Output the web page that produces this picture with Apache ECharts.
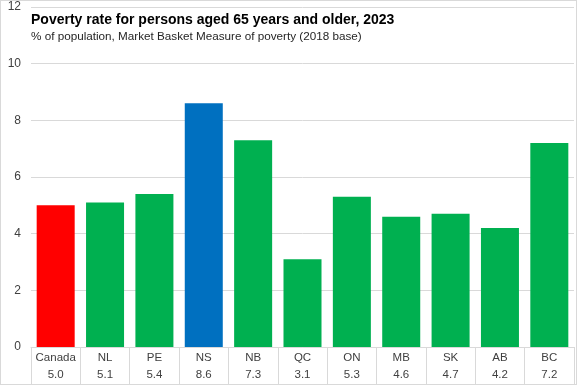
<!DOCTYPE html>
<html><head><meta charset="utf-8">
<script src="https://cdn.jsdelivr.net/npm/echarts@6/dist/echarts.min.js"></script>
<style>html,body{margin:0;padding:0;background:#fff}#c{width:575px;height:383px;border:1px solid #d9d9d9}</style>
</head><body><div id="c"></div>
<script>
const categories = ['Canada','NL','PE','NS','NB','QC','ON','MB','SK','AB','BC'];
const values = [5.0,5.1,5.4,8.6,7.3,3.1,5.3,4.6,4.7,4.2,7.2];
const yTicks = [0,2,4,6,8,10,12];
const titleText = 'Poverty rate for persons aged 65 years and older, 2023';
const subtitleText = '% of population, Market Basket Measure of poverty (2018 base)';

const chart = echarts.init(document.getElementById('c'), null, {renderer:'canvas'});
const font = '"Liberation Sans",Arial,sans-serif';
function barColor(name){ if(name==='Canada') return '#FF0000'; if(name==='NS') return '#0070C0'; return '#00B050'; }
chart.setOption({
  animation:false,
  title:{text:titleText, subtext:subtitleText, left:25, top:7, itemGap:4,
    textStyle:{fontFamily:font,fontWeight:'bold',fontSize:14,color:'#000'},
    subtextStyle:{fontFamily:font,fontSize:11.7,color:'#262626'}},
  grid:{left:30, right:2, top:6, bottom:37},
  xAxis:[{type:'category', data:categories,
    axisLine:{lineStyle:{color:'#d9d9d9'}},
    axisTick:{show:true, interval:0, length:37, lineStyle:{color:'#d9d9d9'}},
    axisLabel:{interval:0, margin:2,
      formatter:(v,i)=>'{c|'+v+'}\n{v|'+values[i].toFixed(1)+'}',
      rich:{c:{fontFamily:font,fontSize:11.5,color:'#404040',lineHeight:17},
            v:{fontFamily:font,fontSize:11.5,color:'#404040',lineHeight:17}}}},
    {type:'category', data:categories, position:'bottom', offset:37,
     axisLine:{show:true,lineStyle:{color:'#d9d9d9'}}, axisTick:{show:false}, axisLabel:{show:false}}],
  yAxis:{type:'value', min:yTicks[0], max:yTicks[yTicks.length-1], interval:2,
    axisLine:{show:false}, axisTick:{show:false},
    axisLabel:{margin:10, fontFamily:font, fontSize:12, color:'#404040'},
    splitLine:{lineStyle:{color:'#d9d9d9'}}},
  series:[{type:'bar', data:values, barCategoryGap:'23%',
    itemStyle:{color:p=>barColor(p.name)}}]
});
</script></body></html>
